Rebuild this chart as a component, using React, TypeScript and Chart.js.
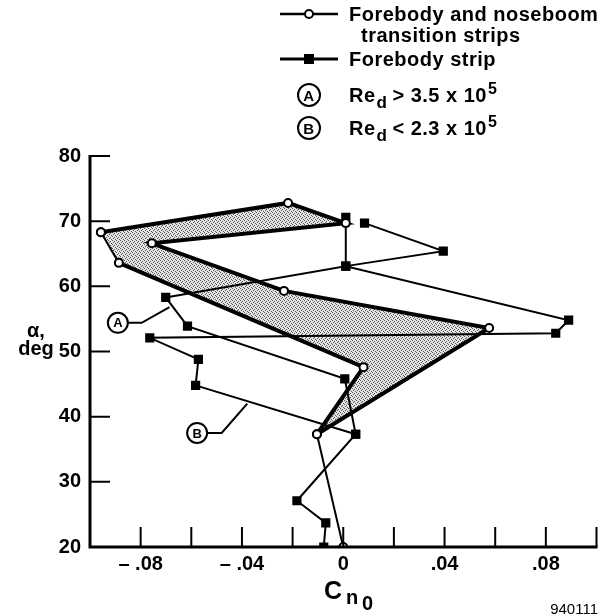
import React, { useEffect, useRef } from 'react';
import { Chart, registerables } from 'chart.js';

Chart.register(...registerables);

// ---- data (Cn0, alpha deg) ----
// Forebody and noseboom transition strips (open circles)
const circleA_cn = [0.0, -0.0104, 0.008, -0.0886, -0.0957];
const circleA_alpha = [20, 37.3, 47.6, 63.6, 68.3];
const circleB_cn = [-0.0104, 0.0576, -0.0234, -0.0756, 0.001, -0.0218, -0.0957];
const circleB_alpha = [37.3, 53.6, 59.3, 66.6, 69.7, 72.8, 68.3];

// Forebody strip (filled squares)
const squareA_cn = [-0.0077, -0.0069, -0.0183, 0.0049, 0.0006, -0.0615, -0.0701, 0.001, 0.001];
const squareA_alpha = [20, 23.7, 27.1, 37.3, 45.8, 53.9, 58.3, 63.1, 70.6];
const squareB_cn = [0.0049, -0.0583, -0.0572, -0.0764, 0.0839, 0.089, 0.001, 0.0395, 0.0084];
const squareB_alpha = [37.3, 44.8, 48.8, 52.1, 52.8, 54.8, 63.1, 65.4, 69.7];

// shaded band between the two transition-strip curves
const band_cn = [-0.0957, -0.0218, 0.001, -0.0756, -0.0234, 0.0576, -0.0104, 0.008, -0.0886, -0.0957];
const band_alpha = [68.3, 72.8, 69.7, 66.6, 59.3, 53.6, 37.3, 47.6, 63.6, 68.3];

// callouts
const calloutLabels = ['A', 'B'];
const calloutCn = [-0.089, -0.0577];
const calloutAlpha = [54.4, 37.5];
const calloutElbowCn = [-0.0796, -0.048];
const calloutTipCn = [-0.0686, -0.0379];
const calloutTipAlpha = [56.8, 42.0];

// axes
const xMin = -0.1, xMax = 0.1, xStep = 0.02;
const yMin = 20, yMax = 80, yStep = 10;

// legend
const legendSeries = ['Forebody and noseboom', 'transition strips', 'Forebody strip'];
const legendRe = [
  { tag: 'A', rel: '> 3.5 x 10', exp: '5' },
  { tag: 'B', rel: '< 2.3 x 10', exp: '5' },
];
const figureId = '940111';

const circleA_widths = [2, 4, 4, 2];

const pts = (xs: number[], ys: number[]) => xs.map((x, i) => ({ x, y: ys[i] }));

const FONT = "'Liberation Sans', Arial, Helvetica, sans-serif";

const fmtX = (v: number) => {
  const r = Math.round(v * 100);
  if (r % 4 !== 0 || Math.abs(r) > 8) return '';
  if (r === 0) return '0';
  const s = '.' + String(Math.abs(r)).padStart(2, '0');
  return r < 0 ? '\u2013 ' + s : s;
};

const makeStipple = (): CanvasPattern | string => {
  const c = document.createElement('canvas');
  c.width = 4;
  c.height = 4;
  const g = c.getContext('2d');
  if (!g) return '#bfbfbf';
  g.fillStyle = '#e4e4e4';
  g.fillRect(0, 0, 4, 4);
  g.fillStyle = '#555';
  [[0, 0], [2, 1], [1, 2], [3, 3]].forEach(([px, py]) => g.fillRect(px, py, 1, 1));
  return g.createPattern(c, 'repeat') || '#bfbfbf';
};

const decor = {
  id: 'decor',
  afterDraw(chart: any) {
    const { ctx, chartArea: a, scales } = chart;
    const x = scales.x, y = scales.y;
    ctx.save();
    ctx.strokeStyle = '#000';
    ctx.fillStyle = '#000';
    // axes
    ctx.lineWidth = 3;
    ctx.beginPath();
    ctx.moveTo(a.left, a.top - 1);
    ctx.lineTo(a.left, a.bottom);
    ctx.lineTo(a.right + 1, a.bottom);
    ctx.stroke();
    // inward ticks
    ctx.lineWidth = 2;
    ctx.beginPath();
    x.ticks.forEach((t: any) => {
      const px = x.getPixelForValue(t.value);
      if (px <= a.left + 3) return;
      ctx.moveTo(px, a.bottom);
      ctx.lineTo(px, a.bottom - 20);
    });
    y.ticks.forEach((t: any) => {
      const py = y.getPixelForValue(t.value);
      if (py >= a.bottom - 3) return;
      ctx.moveTo(a.left, py);
      ctx.lineTo(a.left + 20, py);
    });
    ctx.stroke();

    // callouts
    ctx.lineWidth = 2;
    ctx.textAlign = 'center';
    ctx.textBaseline = 'middle';
    calloutLabels.forEach((lab, i) => {
      const cx = x.getPixelForValue(calloutCn[i]);
      const cy = y.getPixelForValue(calloutAlpha[i]);
      const ex = x.getPixelForValue(calloutElbowCn[i]);
      const tx = x.getPixelForValue(calloutTipCn[i]);
      const ty = y.getPixelForValue(calloutTipAlpha[i]);
      ctx.beginPath();
      ctx.arc(cx, cy, 10, 0, Math.PI * 2);
      ctx.fillStyle = '#fff';
      ctx.fill();
      ctx.stroke();
      ctx.beginPath();
      ctx.moveTo(cx + 10, cy);
      ctx.lineTo(ex, cy);
      ctx.lineTo(tx, ty);
      ctx.stroke();
      ctx.fillStyle = '#000';
      ctx.font = `bold 13px ${FONT}`;
      ctx.fillText(lab, cx, cy + 1);
    });

    // y title
    ctx.textAlign = 'center';
    ctx.textBaseline = 'alphabetic';
    ctx.font = `bold 20px ${FONT}`;
    ctx.fillText('\u03b1,', 36, 337);
    ctx.fillText('deg', 36, 355);

    // x title C_n0
    ctx.textAlign = 'left';
    ctx.font = `bold 25px ${FONT}`;
    ctx.fillText('C', 324, 599);
    ctx.font = `bold 20px ${FONT}`;
    ctx.fillText('n', 346, 604);
    ctx.fillText('0', 362, 610);

    // figure number
    ctx.font = `15px ${FONT}`;
    ctx.textAlign = 'right';
    ctx.fillText(figureId, 598, 614);

    // legend
    ctx.textAlign = 'left';
    const lx0 = 280, lx1 = 338, mx = 309, tx0 = 349;
    const rows = [14, 35, 59, 95, 128];
    // series 1 marker
    ctx.lineWidth = 2.5;
    ctx.beginPath();
    ctx.moveTo(lx0, rows[0]);
    ctx.lineTo(lx1, rows[0]);
    ctx.stroke();
    ctx.beginPath();
    ctx.arc(mx, rows[0], 4, 0, Math.PI * 2);
    ctx.fillStyle = '#fff';
    ctx.fill();
    ctx.lineWidth = 2;
    ctx.stroke();
    // series 2 marker
    ctx.fillStyle = '#000';
    ctx.lineWidth = 3;
    ctx.beginPath();
    ctx.moveTo(lx0, rows[2]);
    ctx.lineTo(lx1, rows[2]);
    ctx.stroke();
    ctx.fillRect(mx - 5, rows[2] - 5, 10, 10);

    ctx.font = `bold 20px ${FONT}`;
    ctx.textBaseline = 'alphabetic';
    (ctx as any).letterSpacing = '0.5px';
    ctx.fillText(legendSeries[0], tx0, rows[0] + 7);
    ctx.fillText(legendSeries[1], tx0 + 12, rows[1] + 7);
    ctx.fillText(legendSeries[2], tx0, rows[2] + 7);

    legendRe.forEach((r, i) => {
      const cy = rows[3 + i];
      ctx.lineWidth = 2;
      ctx.beginPath();
      ctx.arc(mx, cy, 11, 0, Math.PI * 2);
      ctx.stroke();
      ctx.textAlign = 'center';
      ctx.font = `bold 15px ${FONT}`;
      ctx.fillText(r.tag, mx, cy + 5.5);
      ctx.textAlign = 'left';
      let px = tx0;
      ctx.font = `bold 20px ${FONT}`;
      ctx.fillText('Re', px, cy + 7);
      px += ctx.measureText('Re').width;
      ctx.font = `bold 17px ${FONT}`;
      ctx.fillText('d', px + 1, cy + 13);
      px += ctx.measureText('d').width + 6;
      ctx.font = `bold 20px ${FONT}`;
      ctx.fillText(r.rel, px, cy + 7);
      px += ctx.measureText(r.rel).width + 1;
      ctx.font = `bold 16px ${FONT}`;
      ctx.fillText(r.exp, px, cy - 1);
    });
    ctx.restore();
  },
};

export default function App() {
  const ref = useRef<HTMLCanvasElement>(null);
  useEffect(() => {
    const circleStyle = {
      borderColor: '#000',
      pointStyle: 'circle',
      pointRadius: 4,
      pointBackgroundColor: '#fff',
      pointBorderColor: '#000',
      pointBorderWidth: 2,
      showLine: true,
      fill: false,
    };
    const squareStyle = {
      borderColor: '#000',
      borderWidth: 2,
      pointStyle: 'rect',
      pointRadius: 6.5,
      pointBackgroundColor: '#000',
      pointBorderColor: '#000',
      pointBorderWidth: 0,
      showLine: true,
      fill: false,
    };
    const chart = new Chart(ref.current!, {
      type: 'scatter',
      data: {
        datasets: [
          {
            ...circleStyle,
            label: 'circleA',
            data: pts(circleA_cn, circleA_alpha),
            borderWidth: 4,
            segment: { borderWidth: (c: any) => circleA_widths[c.p0DataIndex] },
          } as any,
          { ...circleStyle, label: 'circleB', data: pts(circleB_cn, circleB_alpha), borderWidth: 4 } as any,
          { ...squareStyle, label: 'squareA', data: pts(squareA_cn, squareA_alpha) } as any,
          { ...squareStyle, label: 'squareB', data: pts(squareB_cn, squareB_alpha) } as any,
          {
            label: 'band',
            data: pts(band_cn, band_alpha),
            showLine: true,
            fill: 'shape',
            backgroundColor: makeStipple(),
            borderWidth: 0,
            borderColor: 'rgba(0,0,0,0)',
            pointRadius: 0,
          } as any,
        ],
      },
      options: {
        animation: false,
        responsive: false,
        devicePixelRatio: 1,
        layout: { padding: { top: 156, right: 4, left: 0, bottom: 0 } },
        plugins: { legend: { display: false }, tooltip: { enabled: false } },
        scales: {
          x: {
            type: 'linear',
            min: xMin,
            max: xMax,
            grid: { display: false, drawTicks: false },
            border: { display: false },
            ticks: {
              stepSize: xStep,
              autoSkip: false,
              maxRotation: 0,
              padding: 5,
              color: '#000',
              font: { family: FONT, size: 20, weight: 'bold' },
              callback: (v: any) => fmtX(Number(v)),
            },
            afterFit: (s: any) => { s.height = 69; },
          },
          y: {
            type: 'linear',
            min: yMin,
            max: yMax,
            grid: { display: false, drawTicks: false },
            border: { display: false },
            ticks: {
              stepSize: yStep,
              padding: 9,
              color: '#000',
              font: { family: FONT, size: 20, weight: 'bold' },
            },
            afterFit: (s: any) => { s.width = 90; },
          },
        },
      } as any,
      plugins: [decor],
    });
    return () => chart.destroy();
  }, []);
  return (
    <div style={{ position: 'fixed', left: 0, top: 0, width: 603, height: 616, background: '#fff' }}>
      <canvas ref={ref} width={603} height={616} style={{ display: 'block', width: 603, height: 616 }} />
    </div>
  );
}
